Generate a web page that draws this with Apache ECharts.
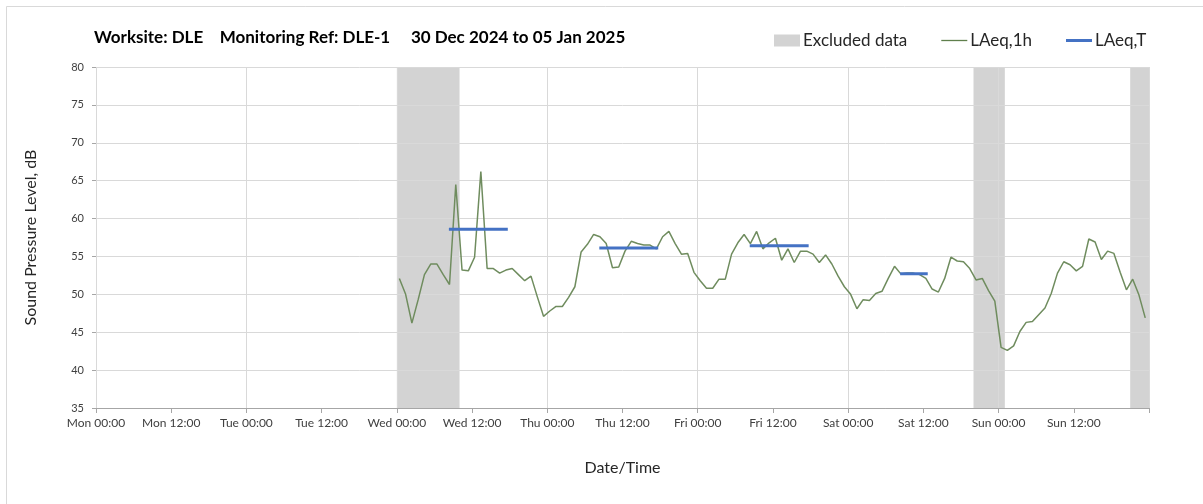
<!DOCTYPE html>
<html>
<head>
<meta charset="utf-8">
<script src="https://cdn.jsdelivr.net/npm/echarts@6/dist/echarts.min.js"></script>
<style>html,body{margin:0;padding:0;background:#fff}#c{width:1203px;height:504px}</style>
</head>
<body>
<div id="c"></div>
<script>
// ---- data ----
var xTickLabels = ['Mon 00:00','Mon 12:00','Tue 00:00','Tue 12:00','Wed 00:00','Wed 12:00','Thu 00:00','Thu 12:00','Fri 00:00','Fri 12:00','Sat 00:00','Sat 12:00','Sun 00:00','Sun 12:00'];
var firstHour = 48.4;   // hours since Mon 00:00 of the first hourly value
var laeq1h = [
  52.1,50.0,46.2,49.3,52.6,54.0,54.0,52.6,51.3,64.5,53.2,53.1,54.9,66.2,53.4,53.4,52.8,53.2,53.4,52.6,51.8,52.4,49.7,47.1,
  47.8,48.4,48.4,49.6,51.0,55.6,56.6,57.9,57.6,56.7,53.5,53.6,55.7,57.0,56.7,56.5,56.5,56.0,57.6,58.3,56.7,55.3,55.4,52.9,
  51.8,50.8,50.8,52.0,52.0,55.3,56.8,57.9,56.7,58.3,56.0,56.8,57.4,54.5,56.0,54.2,55.7,55.7,55.3,54.2,55.2,54.0,52.4,51.0,
  50.0,48.1,49.3,49.2,50.1,50.4,52.1,53.7,52.7,52.8,52.8,52.6,52.1,50.7,50.3,52.1,54.9,54.4,54.3,53.4,51.9,52.1,50.5,49.1,
  43.0,42.6,43.2,45.1,46.3,46.4,47.3,48.2,50.1,52.8,54.3,53.9,53.1,53.7,57.3,56.9,54.6,55.7,55.4,52.9,50.6,52.0,49.9,46.9
];
var periodStart = [56.3, 80.3, 104.3, 128.3];
var periodEnd   = [65.7, 89.7, 113.7, 132.7];
var laeqT       = [58.6, 56.1, 56.4, 52.7];
var excludedStart = [48, 140, 165];
var excludedEnd   = [58, 145, 168];

// ---- build ----
var lineData = laeq1h.map(function(v, i){ return [firstHour + i, v]; });
var tData = [];
for (var k = 0; k < laeqT.length; k++) {
  tData.push([periodStart[k], laeqT[k]]);
  tData.push([periodEnd[k], laeqT[k]]);
  tData.push([periodEnd[k] + 0.1, '-']);
}
var areas = excludedStart.map(function(s, i){ return [{xAxis: s}, {xAxis: excludedEnd[i]}]; });

var FONT = 'Lato';
var chart = echarts.init(document.getElementById('c'), null, {renderer: 'canvas'});
chart.setOption({
  animation: false,
  backgroundColor: '#fff',
  textStyle: {fontFamily: FONT},
  graphic: [{type: 'rect', left: 4, top: 4, shape: {width: 1210, height: 520}, style: {fill: 'none', stroke: '#d9d9d9', lineWidth: 1}, silent: true}],
  title: {
    text: 'Worksite: DLE    Monitoring Ref: DLE-1     30 Dec 2024 to 05 Jan 2025',
    left: 89, top: 24,
    textStyle: {fontFamily: FONT, fontWeight: 'bold', fontSize: 17, color: '#000'}
  },
  legend: {
    left: 774, top: 32, padding: 0,
    itemWidth: 26, itemHeight: 12, itemGap: 34,
    textStyle: {fontFamily: FONT, fontSize: 17, color: '#262626', padding: [0,0,0,-2]},
    data: [
      {name: 'Excluded data', icon: 'rect', itemStyle: {color: '#d3d3d3'}},
      {name: 'LAeq,1h', icon: 'path://M0,0h26v1.3h-26z', itemStyle: {color: '#5f7f4c'}},
      {name: 'LAeq,T', icon: 'path://M0,0h26v3h-26z', itemStyle: {color: '#4472c4'}}
    ]
  },
  grid: {left: 96, right: 54, top: 67, bottom: 96},
  xAxis: [{
    type: 'value', min: 0, max: 168, interval: 12, z: 3,
    axisLine: {show: true, lineStyle: {color: '#a6a6a6'}},
    axisTick: {show: true, length: 5, lineStyle: {color: '#a6a6a6'}},
    splitLine: {show: false},
    axisLabel: {
      fontFamily: FONT, fontSize: 12, color: '#404040', margin: 9,
      formatter: function(v){ var i = Math.round(v / 12); return xTickLabels[i] || ''; }
    },
    name: 'Date/Time', nameLocation: 'middle', nameGap: 52,
    nameTextStyle: {fontFamily: FONT, fontSize: 16, color: '#262626'}
  }, {
    type: 'value', min: 0, max: 168, interval: 24, position: 'bottom', z: 3,
    axisLine: {show: false}, axisTick: {show: false}, axisLabel: {show: false},
    splitLine: {show: true, lineStyle: {color: '#d9d9d9', width: 1}}
  }],
  yAxis: {
    type: 'value', min: 35, max: 80, interval: 5, z: 3,
    axisLine: {show: false},
    axisTick: {show: true, length: 4, lineStyle: {color: '#a6a6a6'}},
    splitLine: {show: true, lineStyle: {color: '#d9d9d9', width: 1}},
    axisLabel: {fontFamily: FONT, fontSize: 11, color: '#404040', margin: 12},
    name: 'Sound Pressure Level, dB', nameLocation: 'middle', nameGap: 57, nameRotate: 90,
    nameTextStyle: {fontFamily: FONT, fontSize: 16, color: '#262626'}
  },
  series: [{
    name: 'Excluded data', type: 'line', data: [], symbol: 'none',
    itemStyle: {color: '#d3d3d3'},
    markArea: {silent: true, itemStyle: {color: '#d3d3d3', opacity: 1}, data: areas},
    z: 1
  }, {
    name: 'LAeq,1h', type: 'line', data: lineData, symbol: 'none', showSymbol: false,
    lineStyle: {color: '#6f8c5e', width: 1.5}, itemStyle: {color: '#6f8c5e'}, z: 5
  }, {
    name: 'LAeq,T', type: 'line', data: tData, symbol: 'none', showSymbol: false, connectNulls: false,
    lineStyle: {color: '#4472c4', width: 3}, itemStyle: {color: '#4472c4'}, z: 6
  }]
});
</script>
</body>
</html>
